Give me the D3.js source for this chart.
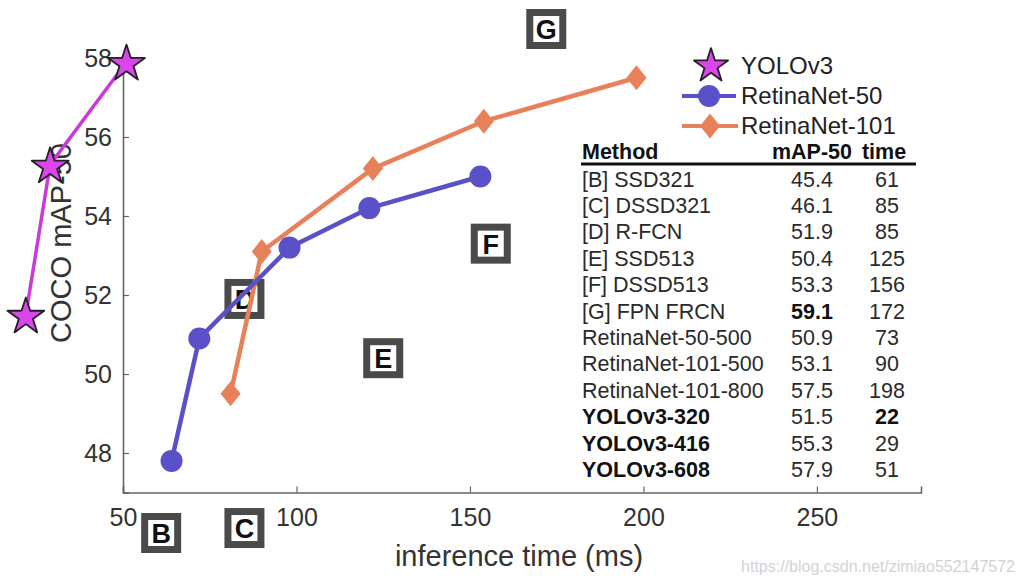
<!DOCTYPE html>
<html>
<head>
<meta charset="utf-8">
<script src="https://cdn.jsdelivr.net/npm/d3@7"></script>
<style>
  html, body { margin: 0; padding: 0; background: #fff; }
  svg { display: block; font-family: "Liberation Sans", Arial, Helvetica, sans-serif; }
</style>
</head>
<body>
<svg id="chart" width="1025" height="585"></svg>
<script>
// ---------- data ----------
const yoloTime = [22, 29, 51];
const yoloMap  = [51.5, 55.3, 57.9];

const r50Time = [64, 72, 98, 121, 153];
const r50Map  = [47.8, 50.9, 53.2, 54.2, 55.0];

const r101Time = [81, 90, 122, 154, 198];
const r101Map  = [49.5, 53.1, 55.2, 56.4, 57.5];

const xTicks = [50, 100, 150, 200, 250];
const yTicks = [48, 50, 52, 54, 56, 58];

const legendNames = ["YOLOv3", "RetinaNet-50", "RetinaNet-101"];

const tableHeader = ["Method", "mAP-50", "time"];
const tableMethods = ["[B] SSD321", "[C] DSSD321", "[D] R-FCN", "[E] SSD513", "[F] DSSD513", "[G] FPN FRCN",
  "RetinaNet-50-500", "RetinaNet-101-500", "RetinaNet-101-800", "YOLOv3-320", "YOLOv3-416", "YOLOv3-608"];
const tableMap  = ["45.4", "46.1", "51.9", "50.4", "53.3", "59.1", "50.9", "53.1", "57.5", "51.5", "55.3", "57.9"];
const tableTime = ["61", "85", "85", "125", "156", "172", "73", "90", "198", "22", "29", "51"];
const boldMethod = [false, false, false, false, false, false, false, false, false, true, true, true];
const boldMap    = [false, false, false, false, false, true, false, false, false, false, false, false];
const boldTime   = [false, false, false, false, false, false, false, false, false, true, false, false];

// letter boxes for the other methods (time, mAP-50)
const boxLetters = ["B", "C", "D", "E", "F", "G"];
const boxTime = [61, 85, 85, 125, 156, 172];
const boxMap  = [45.4, 46.1, 51.9, 50.4, 53.3, 59.1];

// ---------- style ----------
const cYoloLine = "#c93bd9", cYoloFill = "#dc45ec";
const cR50 = "#5a50c8";
const cR101 = "#e8805a";
const axisColor = "#666";
const textColor = "#333";

const svg = d3.select("#chart");

const x = d3.scaleLinear().domain([50, 280]).range([123, 921]);
const y = d3.scaleLinear().domain([47, 58]).range([492.5, 58]);

// ---------- axes ----------
const gx = svg.append("g").attr("transform", `translate(0,${y(47)})`)
  .call(d3.axisBottom(x).tickValues(xTicks).tickSize(-6).tickPadding(16).tickFormat(d3.format("d")));
gx.select(".domain").attr("stroke", axisColor).attr("stroke-width", 1.6);
gx.selectAll(".tick line").attr("stroke", axisColor).attr("stroke-width", 1.2);
gx.selectAll(".tick text").attr("fill", textColor).style("font-size", "25px")
  .style("font-family", "'Liberation Sans', Arial, sans-serif");

const gy = svg.append("g").attr("transform", `translate(${x(50)},0)`)
  .call(d3.axisLeft(y).tickValues(yTicks).tickSize(-6).tickPadding(11).tickFormat(d3.format("d")));
gy.select(".domain").attr("stroke", axisColor).attr("stroke-width", 1.6);
gy.selectAll(".tick line").attr("stroke", axisColor).attr("stroke-width", 1.2);
gy.selectAll(".tick text").attr("fill", textColor).style("font-size", "25px")
  .style("font-family", "'Liberation Sans', Arial, sans-serif");

// axis titles
svg.append("text").attr("x", 519).attr("y", 566).attr("text-anchor", "middle")
  .attr("fill", textColor).style("font-size", "29px").text("inference time (ms)");
svg.append("text").attr("transform", "translate(71,243) rotate(-90)").attr("text-anchor", "middle")
  .attr("fill", textColor).style("font-size", "29px").text("COCO mAP-50");

// ---------- letter boxes ----------
const boxY = v => Math.max(29, Math.min(533, y(v)));
const boxes = svg.append("g");
boxLetters.forEach((L, i) => {
  const cx = x(boxTime[i]), cy = boxY(boxMap[i]);
  boxes.append("rect").attr("x", cx - 16.5).attr("y", cy - 16.5).attr("width", 33).attr("height", 33)
    .attr("fill", "#fff").attr("stroke", "#4a4a4a").attr("stroke-width", 7);
  boxes.append("text").attr("x", cx).attr("y", cy + 10).attr("text-anchor", "middle")
    .attr("fill", "#111").style("font-size", "27px").style("font-weight", "bold").text(L);
});

// ---------- series ----------
const line = d3.line().x(d => x(d[0])).y(d => y(d[1]));
const starPath = d3.symbol().type(d3.symbolStar).size(420)();
const diamondPath = "M0,-12.5L10,0L0,12.5L-10,0Z";

function series(times, maps, color, width) {
  const pts = times.map((t, i) => [t, maps[i]]);
  svg.append("path").datum(pts).attr("d", line).attr("fill", "none")
    .attr("stroke", color).attr("stroke-width", width).attr("stroke-linejoin", "round");
  return pts;
}

const r101Pts = series(r101Time, r101Map, cR101, 4.5);
svg.append("g").selectAll("path").data(r101Pts).join("path")
  .attr("d", diamondPath).attr("transform", d => `translate(${x(d[0])},${y(d[1])})`).attr("fill", cR101);

const r50Pts = series(r50Time, r50Map, cR50, 4.5);
svg.append("g").selectAll("circle").data(r50Pts).join("circle")
  .attr("cx", d => x(d[0])).attr("cy", d => y(d[1])).attr("r", 11).attr("fill", cR50);

const yoloPts = series(yoloTime, yoloMap, cYoloLine, 3.5);
svg.append("g").selectAll("path").data(yoloPts).join("path")
  .attr("d", starPath).attr("transform", d => `translate(${x(d[0])},${y(d[1]) + 2})`)
  .attr("fill", cYoloFill).attr("stroke", "#222").attr("stroke-width", 1.8).attr("stroke-linejoin", "round");

// ---------- legend ----------
const lg = svg.append("g").attr("transform", "translate(682,0)");
const legendRows = [66, 96, 126];
lg.append("path").attr("d", d3.symbol().type(d3.symbolStar).size(360)())
  .attr("transform", `translate(29,${legendRows[0]})`).attr("fill", cYoloFill)
  .attr("stroke", "#222").attr("stroke-width", 1.8).attr("stroke-linejoin", "round");
lg.append("line").attr("x1", 0).attr("x2", 54).attr("y1", legendRows[1]).attr("y2", legendRows[1])
  .attr("stroke", cR50).attr("stroke-width", 4);
lg.append("circle").attr("cx", 27).attr("cy", legendRows[1]).attr("r", 11).attr("fill", cR50);
lg.append("line").attr("x1", 0).attr("x2", 56).attr("y1", legendRows[2]).attr("y2", legendRows[2])
  .attr("stroke", cR101).attr("stroke-width", 4);
lg.append("path").attr("d", diamondPath).attr("transform", `translate(28,${legendRows[2]})`).attr("fill", cR101);
legendNames.forEach((n, i) => {
  lg.append("text").attr("x", 59).attr("y", legendRows[i] + 8).attr("fill", "#222")
    .style("font-size", "24px").text(n);
});

// ---------- table ----------
const tb = svg.append("g");
const fs = "21.5px";
const colMethod = 582, colMap = 812, colTime = 887;
tb.append("text").attr("x", colMethod).attr("y", 159).attr("fill", "#111").style("font-size", fs)
  .style("font-weight", "bold").text(tableHeader[0]);
tb.append("text").attr("x", colMap).attr("y", 159).attr("text-anchor", "middle").attr("fill", "#111")
  .style("font-size", fs).style("font-weight", "bold").text(tableHeader[1]);
tb.append("text").attr("x", colTime - 3).attr("y", 159).attr("text-anchor", "middle").attr("fill", "#111")
  .style("font-size", fs).style("font-weight", "bold").text(tableHeader[2]);
tb.append("line").attr("x1", 581).attr("x2", 916).attr("y1", 164).attr("y2", 164)
  .attr("stroke", "#111").attr("stroke-width", 3);
const rowY = i => 186.5 + i * 26.4;
tableMethods.forEach((m, i) => {
  tb.append("text").attr("x", colMethod).attr("y", rowY(i)).attr("fill", boldMethod[i] ? "#111" : "#2a2a2a")
    .style("font-size", fs).style("font-weight", boldMethod[i] ? "bold" : "normal").text(m);
  tb.append("text").attr("x", colMap).attr("y", rowY(i)).attr("text-anchor", "middle")
    .attr("fill", boldMap[i] ? "#111" : "#2a2a2a")
    .style("font-size", fs).style("font-weight", boldMap[i] ? "bold" : "normal").text(tableMap[i]);
  tb.append("text").attr("x", colTime).attr("y", rowY(i)).attr("text-anchor", "middle")
    .attr("fill", boldTime[i] ? "#111" : "#2a2a2a")
    .style("font-size", fs).style("font-weight", boldTime[i] ? "bold" : "normal").text(tableTime[i]);
});

// ---------- watermark ----------
svg.append("text").attr("x", 1015).attr("y", 572).attr("text-anchor", "end").attr("fill", "#d2d2d2")
  .style("font-size", "16px").text("https://blog.csdn.net/zimiao552147572");
</script>
</body>
</html>
